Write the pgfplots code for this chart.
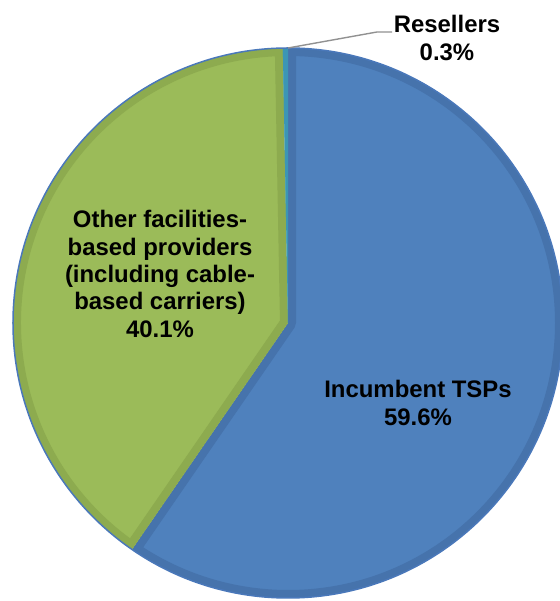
\documentclass[border=0pt]{standalone}
\usepackage{fontspec}
\setmainfont{Liberation Sans}
\usepackage{pgfplots}
\pgfplotsset{compat=1.18}
\definecolor{blueF}{RGB}{79,129,189}
\definecolor{blueD}{RGB}{70,115,172}
\definecolor{greenF}{RGB}{155,187,89}
\definecolor{greenD}{RGB}{141,171,79}
\definecolor{resF}{RGB}{75,172,198}
\definecolor{resD}{RGB}{60,150,180}
\definecolor{rimB}{RGB}{74,120,186}
\definecolor{leader}{RGB}{145,145,145}
% #1 start percent, #2 end percent, #3 fill, #4 border
\newcommand{\slice}[4]{%
  \begin{scope}
    \clip (axis cs:288,278) -- ++({90-3.6*#1}:275bp) arc[start angle={90-3.6*#1}, end angle={90-3.6*#2}, radius=275bp] -- cycle;
    \fill[#3] (axis cs:288,278) -- ++({90-3.6*#1}:275bp) arc[start angle={90-3.6*#1}, end angle={90-3.6*#2}, radius=275bp] -- cycle;
    \draw[#4, line width=16bp, line join=round] (axis cs:288,278) -- ++({90-3.6*#1}:275bp) arc[start angle={90-3.6*#1}, end angle={90-3.6*#2}, radius=275bp] -- cycle;
  \end{scope}}
\begin{document}
\begin{tikzpicture}
\begin{axis}[hide axis, scale only axis, width=560bp, height=601bp,
  xmin=0, xmax=560, ymin=0, ymax=601, clip=false]
\pgfplotsextra{%
  \coordinate (bl) at (axis cs:0,0);
  \coordinate (tr) at (axis cs:560,601);
  \begin{scope}
    \clip (axis cs:0,0) rectangle (axis cs:560,601);
    % Incumbent TSPs 59.6, Other facilities-based 40.1, Resellers 0.3
    \slice{0}{59.6}{blueF}{blueD}
    \slice{59.6}{99.7}{greenF}{greenD}
    \slice{99.7}{100}{resF}{resD}
    \draw[rimB, line width=1.5bp] (axis cs:288,278) circle[radius=275bp];
  \end{scope}
  \draw[leader, line width=1.4bp] (axis cs:288,553) -- (axis cs:377,569) -- (axis cs:392,569);
  \node[font=\fontsize{24}{27.4}\selectfont\bfseries, align=center] at (axis cs:160,327)
    {Other facilities-\\based providers\\(including cable-\\based carriers)\\40.1\%};
  \node[font=\fontsize{24}{27.4}\selectfont\bfseries, align=center] at (axis cs:418,198)
    {Incumbent TSPs\\59.6\%};
  \node[font=\fontsize{24}{27.4}\selectfont\bfseries, align=center] at (axis cs:447,563)
    {Resellers\\0.3\%};
}
\end{axis}
\pgfresetboundingbox
\path[use as bounding box] (bl) rectangle (tr);
\end{tikzpicture}
\end{document}
